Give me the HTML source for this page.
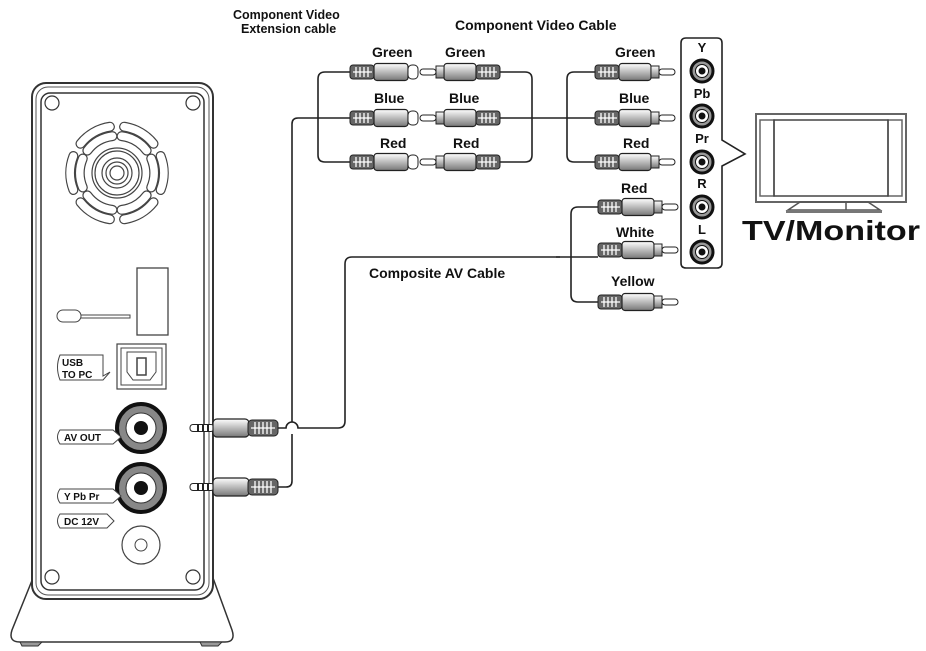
<!DOCTYPE html>
<html><head><meta charset="utf-8"><style>
html,body{margin:0;padding:0;background:#fff}
svg{display:block}
text{font-family:"Liberation Sans",Arial,sans-serif;font-weight:bold;fill:#111}
</style></head><body>
<svg width="926" height="651" viewBox="0 0 926 651" xmlns="http://www.w3.org/2000/svg">
<defs>
<linearGradient id="g" x1="0" y1="0" x2="0" y2="1">
<stop offset="0" stop-color="#fff"/><stop offset="0.5" stop-color="#bbb"/><stop offset="1" stop-color="#777"/>
</linearGradient>
<g id="hatch">
<rect x="0" y="-7" width="24" height="14" rx="3" fill="#666" stroke="#222" stroke-width="1"/>
<path d="M3 0H22M6 -5V5M10 -5V5M14 -5V5M18 -5V5" stroke="#fff" stroke-width="1.3"/>
</g>
<g id="plugR">
<use href="#hatch"/>
<rect x="24" y="-8.5" width="32" height="17" rx="3" fill="url(#g)" stroke="#222" stroke-width="1.2"/>
<rect x="56" y="-6" width="8" height="12" fill="url(#g)" stroke="#222" stroke-width="1"/>
<rect x="64" y="-3" width="16" height="6" rx="3" fill="#fff" stroke="#222" stroke-width="1"/>
</g>
<g id="femR">
<use href="#hatch"/>
<rect x="24" y="-8.5" width="34" height="17" rx="3" fill="url(#g)" stroke="#222" stroke-width="1.2"/>
<rect x="58" y="-7" width="10" height="14" rx="4" fill="#fff" stroke="#222" stroke-width="1"/>
</g>
<g id="mini">
<rect x="0" y="-3.5" width="24" height="7" rx="3" fill="#fff" stroke="#222" stroke-width="1"/>
<path d="M8 -3.5V3.5M13 -3.5V3.5M18 -3.5V3.5" stroke="#222" stroke-width="2"/>
<rect x="23" y="-9" width="36" height="18" rx="4" fill="url(#g)" stroke="#222" stroke-width="1.2"/>
<g transform="translate(58,0)"><rect x="0" y="-8" width="30" height="16" rx="4" fill="#666" stroke="#222"/><path d="M3 0H27M7 -6V6M11 -6V6M15 -6V6M19 -6V6M23 -6V6" stroke="#fff" stroke-width="1.3"/></g>
</g>
<g id="jack">
<circle r="11" fill="#999" stroke="#111" stroke-width="3"/>
<circle r="6.5" fill="#fff" stroke="#111" stroke-width="1"/>
<circle r="3.5" fill="#111"/>
</g>
<g id="vent">
<path d="M-14.5 -34.2 A37 37 0 0 1 14.5 -34.2" fill="none" stroke="#444" stroke-width="10" stroke-linecap="round"/>
<path d="M-14.5 -34.2 A37 37 0 0 1 14.5 -34.2" fill="none" stroke="#fff" stroke-width="7.6" stroke-linecap="round"/>
<path d="M-17 -43.6 A47 47 0 0 1 17 -43.6" fill="none" stroke="#444" stroke-width="10" stroke-linecap="round"/>
<path d="M-17 -43.6 A47 47 0 0 1 17 -43.6" fill="none" stroke="#fff" stroke-width="7.6" stroke-linecap="round"/>
</g>
</defs>

<path d="M33 578 L12 630 Q8 642 20 642 H225 Q236 642 232 630 L213 578" fill="#fff" stroke="#333" stroke-width="1.5"/>
<path d="M20 642 H42 L38 646 H22Z M200 642 H222 L218 646 H202Z" fill="#999" stroke="#333"/>
<rect x="32" y="83" width="181" height="516" rx="14" fill="#fff" stroke="#333" stroke-width="2"/>
<rect x="36" y="87" width="173" height="508" rx="12" fill="none" stroke="#555" stroke-width="1"/>
<rect x="41" y="93" width="163" height="497" rx="9" fill="none" stroke="#333" stroke-width="1.5"/>
<g fill="#fff" stroke="#333" stroke-width="1.2">
<circle cx="52" cy="103" r="7"/><circle cx="193" cy="103" r="7"/>
<circle cx="52" cy="577" r="7"/><circle cx="193" cy="577" r="7"/>
</g>
<g transform="translate(117,173)">
<g fill="none" stroke="#444" stroke-width="1.2"><circle r="25"/><circle r="22"/><circle r="15"/><circle r="11"/><circle r="7"/></g>
<use href="#vent" transform="rotate(-30)"/><use href="#vent" transform="rotate(30)"/>
<use href="#vent" transform="rotate(90)"/><use href="#vent" transform="rotate(150)"/>
<use href="#vent" transform="rotate(210)"/><use href="#vent" transform="rotate(270)"/>
</g>
<rect x="137" y="268" width="31" height="67" fill="#fff" stroke="#444" stroke-width="1.3"/>
<rect x="57" y="310" width="24" height="12" rx="6" fill="#fff" stroke="#444"/>
<path d="M81 315 H130 V318 H81" fill="none" stroke="#444"/>
<rect x="117" y="344" width="49" height="45" fill="#fff" stroke="#444" stroke-width="1.2"/>
<rect x="121" y="348" width="41" height="37" fill="none" stroke="#444"/>
<path d="M127 352 H156 V372 L150 380 H133 L127 372Z" fill="none" stroke="#444"/>
<rect x="137" y="358" width="9" height="17" fill="none" stroke="#444" stroke-width="1.5"/>
<path d="M60 355 H103 V376 L110 372 L103 380 H60 Q55 367 60 355Z" fill="#fff" stroke="#444"/>
<text x="62" y="366" font-size="10">USB</text><text x="62" y="378" font-size="10">TO  PC</text>
<g><circle cx="141" cy="428" r="24" fill="#888" stroke="#111" stroke-width="4"/><circle cx="141" cy="428" r="15" fill="#fff" stroke="#333"/><circle cx="141" cy="428" r="7" fill="#111"/></g>
<g><circle cx="141" cy="488" r="24" fill="#888" stroke="#111" stroke-width="4"/><circle cx="141" cy="488" r="15" fill="#fff" stroke="#333"/><circle cx="141" cy="488" r="7" fill="#111"/></g>
<circle cx="141" cy="545" r="19" fill="#fff" stroke="#444" stroke-width="1.2"/>
<circle cx="141" cy="545" r="6" fill="#fff" stroke="#444"/>
<g fill="#fff" stroke="#444">
<path d="M60 430 H113 L121 437 L113 444 H60 Q55 437 60 430Z"/>
<path d="M60 489 H113 L121 496 L113 503 H60 Q55 496 60 489Z"/>
<path d="M60 514 H107 L114 521 L107 528 H60 Q55 521 60 514Z"/>
</g>
<text x="64" y="441" font-size="10">AV   OUT</text>
<text x="64" y="500" font-size="10">Y  Pb  Pr</text>
<text x="64" y="525" font-size="10">DC   12V</text>

<g fill="none" stroke="#222" stroke-width="1.6">
<path d="M278 428 H286 A6 6 0 0 1 298 428 H338 Q345 428 345 421 V264 Q345 257 352 257 H560"/>
<path d="M278 487 H286 Q292 487 292 481 V434 M292 422 V124 Q292 118 298 118 H352"/>
<path d="M350 72 H325 Q318 72 318 79 V155 Q318 162 325 162 H350"/>
<path d="M500 72 H525 Q532 72 532 79 V155 Q532 162 525 162 H500"/>
<path d="M500 118 H597"/>
<path d="M597 72 H574 Q567 72 567 79 V155 Q567 162 574 162 H597"/>
<path d="M598 207 H578 Q571 207 571 214 V295 Q571 302 578 302 H598"/>
<path d="M556 257 H598"/>
</g>
<use href="#mini" transform="translate(190,428)"/>
<use href="#mini" transform="translate(190,487)"/>
<use href="#femR" transform="translate(350,72)"/>
<use href="#femR" transform="translate(350,118)"/>
<use href="#femR" transform="translate(350,162)"/>
<use href="#plugR" transform="translate(500,72) scale(-1,1)"/>
<use href="#plugR" transform="translate(500,118) scale(-1,1)"/>
<use href="#plugR" transform="translate(500,162) scale(-1,1)"/>
<use href="#plugR" transform="translate(595,72)"/>
<use href="#plugR" transform="translate(595,118)"/>
<use href="#plugR" transform="translate(595,162)"/>
<use href="#plugR" transform="translate(598,207)"/>
<use href="#plugR" transform="translate(598,250)"/>
<use href="#plugR" transform="translate(598,302)"/>

<text x="233" y="19" font-size="12.5">Component Video</text>
<text x="241" y="33" font-size="12.5">Extension cable</text>
<text x="455" y="30" font-size="14">Component Video Cable</text>
<text x="369" y="278" font-size="14">Composite AV Cable</text>
<g font-size="14">
<text x="372" y="57">Green</text><text x="445" y="57">Green</text><text x="615" y="57">Green</text>
<text x="374" y="103">Blue</text><text x="449" y="103">Blue</text><text x="619" y="103">Blue</text>
<text x="380" y="148">Red</text><text x="453" y="148">Red</text><text x="623" y="148">Red</text>
<text x="621" y="193">Red</text><text x="616" y="237">White</text><text x="611" y="286">Yellow</text>
</g>

<path d="M686 38 H717 Q722 38 722 43 V140 L745 154 L722 166 V263 Q722 268 717 268 H686 Q681 268 681 263 V43 Q681 38 686 38Z" fill="#fff" stroke="#222" stroke-width="1.6"/>
<g font-size="13" text-anchor="middle">
<text x="702" y="52">Y</text><text x="702" y="98">Pb</text><text x="702" y="143">Pr</text>
<text x="702" y="188">R</text><text x="702" y="234">L</text>
</g>
<use href="#jack" transform="translate(702,71)"/>
<use href="#jack" transform="translate(702,116)"/>
<use href="#jack" transform="translate(702,162)"/>
<use href="#jack" transform="translate(702,207)"/>
<use href="#jack" transform="translate(702,252)"/>

<rect x="756" y="114" width="150" height="88" fill="#fff" stroke="#666" stroke-width="2"/>
<rect x="760" y="120" width="14" height="76" fill="none" stroke="#666" stroke-width="1.5"/>
<rect x="888" y="120" width="14" height="76" fill="none" stroke="#666" stroke-width="1.5"/>
<rect x="774" y="120" width="114" height="76" fill="none" stroke="#444" stroke-width="1.5"/>
<path d="M800 202 L788 210 H880 L868 202Z M846 202 V210" fill="none" stroke="#555" stroke-width="1.5"/>
<rect x="786" y="210" width="96" height="3" fill="#777"/>
<text x="742" y="240" font-size="28" textLength="178" lengthAdjust="spacingAndGlyphs">TV/Monitor</text>
</svg>
</body></html>
